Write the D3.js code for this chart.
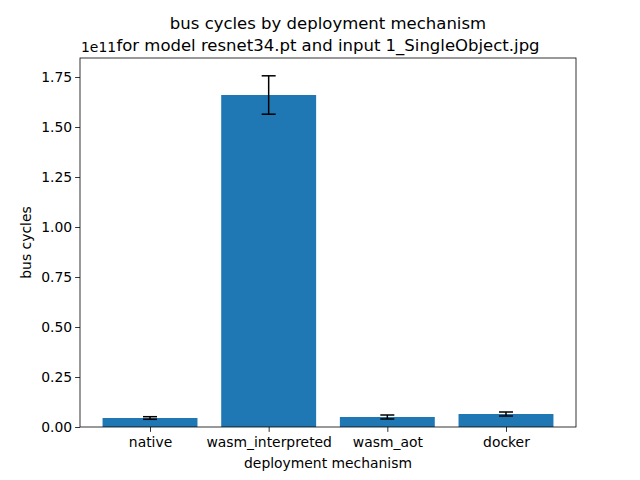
<!DOCTYPE html>
<html>
<head>
<meta charset="utf-8">
<script src="https://cdn.jsdelivr.net/npm/d3@7"></script>
<style>
  body { margin: 0; background: #fff; }
  text { font-family: "DejaVu Sans", sans-serif; fill: #000; }
</style>
</head>
<body>
<div id="chart"></div>
<script>
"use strict";

// values (units of 1e11 bus cycles)
const mechanisms = ["native", "wasm_interpreted", "wasm_aot", "docker"];
const busCycles = [0.045, 1.66, 0.05, 0.065];
const busErrors = [0.0065, 0.096, 0.01, 0.01];
const yTicks = [0, 0.25, 0.5, 0.75, 1.0, 1.25, 1.5, 1.75];

const msm = {
    width: 640,
    height: 480,
    left: 80,
    right: 576,
    top: 58,
    bottom: 427
};

const svg = d3.select("#chart")
    .append("svg")
    .attr("width", msm.width)
    .attr("height", msm.height);

// x is a linear scale over bar index, like matplotlib's bar positions
let xScale = d3.scaleLinear()
    .domain([-0.59, 3.59])
    .range([msm.left, msm.right]);

let yScale = d3.scaleLinear()
    .domain([0, 1.845])
    .range([msm.bottom, msm.top]);

const barWidth = xScale(0.8) - xScale(0);

// bars
svg.selectAll(".bar")
    .data(busCycles)
    .enter()
    .append("rect")
    .attr("class", "bar")
    .attr("x", (d, i) => xScale(i - 0.4))
    .attr("y", d => yScale(d))
    .attr("width", barWidth)
    .attr("height", d => yScale(0) - yScale(d))
    .attr("fill", "#1f77b4");

// error bars
let errG = svg.append("g").attr("stroke", "#000").attr("stroke-width", 1.5);
busCycles.forEach((v, i) => {
    let cx = xScale(i);
    let lo = yScale(v - busErrors[i]);
    let hi = yScale(v + busErrors[i]);
    errG.append("line").attr("x1", cx).attr("x2", cx).attr("y1", lo).attr("y2", hi);
    errG.append("line").attr("x1", cx - 7).attr("x2", cx + 7).attr("y1", lo).attr("y2", lo);
    errG.append("line").attr("x1", cx - 7).attr("x2", cx + 7).attr("y1", hi).attr("y2", hi);
});

// x axis
let xAxis = d3.axisBottom(xScale)
    .tickValues(d3.range(mechanisms.length))
    .tickFormat(i => mechanisms[i])
    .tickSizeInner(4.9)
    .tickSizeOuter(0)
    .tickPadding(5.5);
let gx = svg.append("g")
    .attr("transform", "translate(0," + msm.bottom + ")")
    .call(xAxis);

// y axis
let yAxis = d3.axisLeft(yScale)
    .tickValues(yTicks)
    .tickFormat(d3.format(".2f"))
    .tickSizeInner(4.9)
    .tickSizeOuter(0)
    .tickPadding(3);
let gy = svg.append("g")
    .attr("transform", "translate(" + msm.left + ",0)")
    .call(yAxis);

[gx, gy].forEach(g => {
    g.selectAll("text").style("font-size", "13.9px").style("font-family", "DejaVu Sans");
    g.selectAll("line").attr("stroke", "#000").attr("stroke-width", 0.8);
    g.select(".domain").remove();
});

// frame
svg.append("rect")
    .attr("x", msm.left)
    .attr("y", msm.top)
    .attr("width", msm.right - msm.left)
    .attr("height", msm.bottom - msm.top)
    .attr("fill", "none")
    .attr("stroke", "#000")
    .attr("stroke-width", 0.8);

// offset text
svg.append("text")
    .attr("x", msm.left + 1)
    .attr("y", msm.top - 6)
    .style("font-size", "13.9px")
    .text("1e11");

// title
svg.append("text")
    .attr("x", (msm.left + msm.right) / 2)
    .attr("y", 29)
    .attr("text-anchor", "middle")
    .style("font-size", "16.5px")
    .text("bus cycles by deployment mechanism");
svg.append("text")
    .attr("x", (msm.left + msm.right) / 2)
    .attr("y", 51)
    .attr("text-anchor", "middle")
    .style("font-size", "16.5px")
    .text("for model resnet34.pt and input 1_SingleObject.jpg");

// axis labels
svg.append("text")
    .attr("x", (msm.left + msm.right) / 2)
    .attr("y", 468)
    .attr("text-anchor", "middle")
    .style("font-size", "13.9px")
    .text("deployment mechanism");
svg.append("text")
    .attr("transform", "translate(31," + ((msm.top + msm.bottom) / 2) + ") rotate(-90)")
    .attr("text-anchor", "middle")
    .style("font-size", "13.9px")
    .text("bus cycles");
</script>
</body>
</html>
